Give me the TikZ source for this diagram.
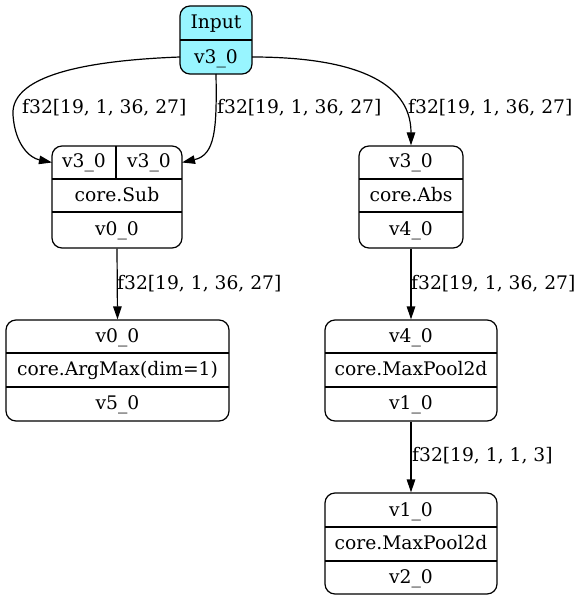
\documentclass[tikz,border=0pt]{standalone}
\usepackage{fontspec}
\setmainfont{DejaVu Serif}
\usetikzlibrary{arrows.meta}
\definecolor{inputfill}{HTML}{98F5FF}
\tikzset{
  box/.style={draw=black, line width=1.2pt, rounded corners=10pt, inner sep=0pt},
  txt/.style={inner sep=0pt, anchor=base, font=\fontsize{18.7}{22}\selectfont},
  lbl/.style={inner sep=0pt, anchor=base west, font=\fontsize{18.7}{22}\selectfont},
  divider/.style={draw=black, line width=1.2pt},
  edge/.style={draw=black, line width=1.2pt, -{Triangle[length=13pt,width=8.5pt]}}
}
\begin{document}
\begin{tikzpicture}[x=1pt,y=-1pt]
\useasboundingbox (0,0) rectangle (582,601);
% Input
\node[box, fill=inputfill, minimum width=72pt, minimum height=68pt] (inp) at (216,40) {};
\draw[divider] (180,40) -- (252,40);
\node[txt] (inpT) at (216,29) {Input};
\node[txt] (inpB) at (216,63.5) {v3\_0};
% Sub
\node[box, minimum width=130pt, minimum height=102pt] (sub) at (117,197) {};
\draw[divider] (52,179) -- (182,179);
\draw[divider] (52,212) -- (182,212);
\draw[divider] (116,146) -- (116,179);
\node[txt] (subA) at (84,168) {v3\_0};
\node[txt] (subB) at (149,168) {v3\_0};
\node[txt] (subM) at (117,202) {core.Sub};
\node[txt] (subO) at (117,236) {v0\_0};
% Abs
\node[box, minimum width=104pt, minimum height=102pt] (abs) at (411,197) {};
\draw[divider] (359,179) -- (463,179);
\draw[divider] (359,212) -- (463,212);
\node[txt] (absA) at (411,168) {v3\_0};
\node[txt] (absM) at (411,202) {core.Abs};
\node[txt] (absO) at (411,236) {v4\_0};
% ArgMax
\node[box, minimum width=223pt, minimum height=101pt] (arg) at (117.5,370.5) {};
\draw[divider] (6,353) -- (229,353);
\draw[divider] (6,387) -- (229,387);
\node[txt] (argA) at (117.5,342) {v0\_0};
\node[txt] (argM) at (117.5,375.5) {core.ArgMax(dim=1)};
\node[txt] (argO) at (117.5,409) {v5\_0};
% MaxPool 1
\node[box, minimum width=172pt, minimum height=101pt] (mp1) at (411,370.5) {};
\draw[divider] (325,353) -- (497,353);
\draw[divider] (325,387) -- (497,387);
\node[txt] (mp1A) at (411,342) {v4\_0};
\node[txt] (mp1M) at (411,375.5) {core.MaxPool2d};
\node[txt] (mp1O) at (411,409) {v1\_0};
% MaxPool 2
\node[box, minimum width=172pt, minimum height=101pt] (mp2) at (411,543.5) {};
\draw[divider] (325,527) -- (497,527);
\draw[divider] (325,561) -- (497,561);
\node[txt] (mp2A) at (411,516) {v1\_0};
\node[txt] (mp2M) at (411,549.5) {core.MaxPool2d};
\node[txt] (mp2O) at (411,583) {v2\_0};
% ports
\coordinate (inL) at (180,57);
\coordinate (inR) at (252,57);
\coordinate (inD) at (216,74);
\coordinate (subL) at (52,162.5);
\coordinate (subR) at (182,162.5);
% edges
\draw[edge] (inL) .. controls (100,60) and (10,72) .. (13,115) .. controls (15,145) and (30,158) .. (subL);
\draw[edge] (inD) .. controls (217,130) and (215,155) .. (subR);
\draw[edge] (inR) .. controls (350,57) and (411,80) .. (abs.north);
\draw[edge] (sub.south) -- (arg.north);
\draw[edge] (abs.south) -- (mp1.north);
\draw[edge] (mp1.south) -- (mp2.north);
% labels
\node[lbl] (l1) at (22,114) {f32[19, 1, 36, 27]};
\node[lbl] (l2) at (217,114) {f32[19, 1, 36, 27]};
\node[lbl] (l3) at (408,114) {f32[19, 1, 36, 27]};
\node[lbl] (l4) at (117,289) {f32[19, 1, 36, 27]};
\node[lbl] (l5) at (411,289) {f32[19, 1, 36, 27]};
\node[lbl] (l6) at (412,461) {f32[19, 1, 1, 3]};
\end{tikzpicture}
\end{document}
